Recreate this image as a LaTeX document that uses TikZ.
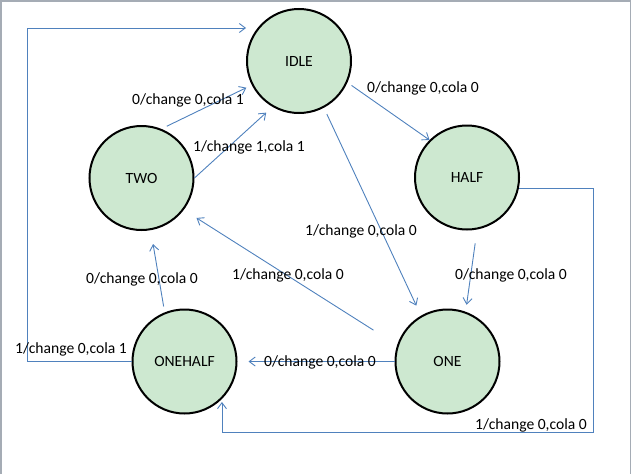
\documentclass[tikz,border=0pt]{standalone}
\usepackage{fontspec}
\setmainfont{Carlito}
\usetikzlibrary{arrows.meta}
\definecolor{stategreen}{RGB}{205,232,208}
\definecolor{arrowblue}{RGB}{79,129,189}
\definecolor{framegray}{RGB}{165,172,181}
\begin{document}
\begin{tikzpicture}[x=1pt,y=-1pt,
  state/.style={circle,draw=black,line width=2pt,fill=stategreen,minimum size=104pt,inner sep=0pt,font=\fontsize{15.6}{18}\selectfont},
  lbl/.style={inner sep=0pt,font=\fontsize{15.6}{18}\selectfont},
  arr/.style={draw=arrowblue,line width=0.9pt,-{Straight Barb[length=6pt,width=9pt]}},
  frame/.style={draw=framegray,line width=1.5pt}
]
\useasboundingbox (0,0) rectangle (632,474);
\draw[frame] (1,474) -- (1,0.75) -- (630.5,0.75) -- (630.5,474);

\node[state] (idle) at (299,61) {IDLE};
\node[state] (two) at (141.5,178) {TWO};
\node[state] (half) at (467,177.5) {HALF};
\node[state] (one) at (447.5,361.5) {ONE};
\node[state] (onehalf) at (184.5,361.5) {ONEHALF};

\coordinate (topy) at (0,28);
\coordinate (leftx) at (27,0);
\coordinate (rightx) at (593,0);
\coordinate (boty) at (0,432);

% ONEHALF -> IDLE (around the left)
\draw[arr] (onehalf.west) -| (leftx |- topy) -- (idle.west |- topy);
% TWO -> IDLE
\draw[arr,shorten <=6pt,shorten >=6pt] (two.68) -- (idle.207);
\draw[arr,shorten >=8.5pt] (two.0) -- (idle.240);
% IDLE -> HALF
\draw[arr,shorten <=5pt] (idle.336) -- (half.135);
% IDLE -> ONE
\draw[arr,shorten <=7pt,shorten >=11pt] (idle.298) -- (one.120);
% HALF -> ONE
\draw[arr,shorten <=14pt,shorten >=7pt] (half.281) -- (one.70);
% HALF -> ONEHALF (around the right and bottom)
\draw[arr,shorten >=3pt] (half.348) -| (rightx |- boty) -| (onehalf.315);
% ONE -> ONEHALF
\draw[arr,shorten >=11pt] (one.west) -- (onehalf.east);
% ONE -> TWO
\draw[arr,shorten <=28pt,shorten >=15pt] (one.162) -- (two.323);
% ONEHALF -> TWO
\draw[arr,shorten <=6pt,shorten >=14pt] (onehalf.112) -- (two.280);

\node[lbl] (l1) at (188,100) {0/change 0,cola 1};
\node[lbl] (l2) at (249,147) {1/change 1,cola 1};
\node[lbl] (l3) at (423,88) {0/change 0,cola 0};
\node[lbl] (l4) at (361,231) {1/change 0,cola 0};
\node[lbl] (l5) at (511,275) {0/change 0,cola 0};
\node[lbl] (l6) at (531,425) {1/change 0,cola 0};
\node[lbl] (l7) at (320,362) {0/change 0,cola 0};
\node[lbl] (l8) at (288,275) {1/change 0,cola 0};
\node[lbl] (l9) at (142,279) {0/change 0,cola 0};
\node[lbl] (l10) at (71,349) {1/change 0,cola 1};
\end{tikzpicture}
\end{document}
